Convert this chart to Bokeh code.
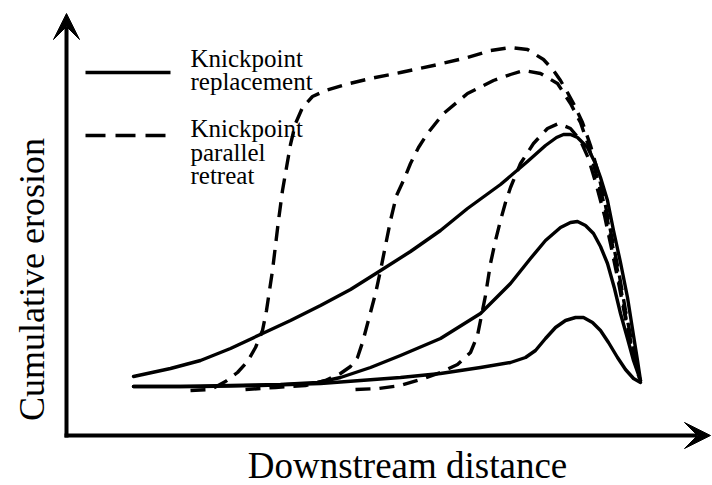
from bokeh.plotting import figure
from bokeh.models import Range1d, Arrow, VeeHead
from bokeh.core.properties import value
from bokeh.embed import file_html
from bokeh.resources import INLINE
import math

# Schematic data (arbitrary units: downstream distance, cumulative erosion)
s1_x = [67, 104, 134, 164, 196, 224, 254, 284, 311, 344, 374, 401, 434, 461, 479, 490, 497, 504, 511, 521, 529, 534, 541, 547, 554, 561, 567, 571, 574]
s1_y = [59, 67, 75, 87, 102, 115, 130, 146, 163, 184, 205, 227, 251, 274, 290, 298, 301, 301, 298, 288, 272, 258, 235, 205, 173, 138, 100, 75, 55]

s2_x = [67, 114, 164, 214, 251, 274, 304, 334, 374, 414, 444, 464, 479, 494, 504, 511, 519, 527, 534, 541, 548, 554, 561, 567, 574]
s2_y = [49, 49, 50, 51, 53, 58, 68, 80, 97, 122, 152, 177, 195, 208, 213, 214, 210, 202, 189, 172, 147, 122, 97, 75, 55]

s3_x = [67, 134, 194, 254, 294, 334, 374, 414, 444, 459, 469, 479, 489, 499, 509, 517, 526, 534, 542, 551, 559, 567, 574]
s3_y = [49, 49, 50, 52, 55, 58, 62, 68, 73, 78, 85, 97, 108, 115, 118, 118, 113, 105, 93, 78, 66, 57, 53]

d1_x = [124, 144, 159, 171, 181, 189, 196, 200, 203, 206, 209, 212, 216, 220, 224, 229, 236, 246, 259, 279, 304, 334, 367, 401, 424, 444, 461, 477, 487, 494, 501, 507, 516, 524, 531, 538, 545, 552, 559, 566, 572]
d1_y = [45, 46, 54, 63, 74, 88, 105, 125, 145, 165, 190, 215, 245, 268, 291, 312, 328, 339, 345, 351, 357, 363, 370, 378, 385, 388, 386, 376, 365, 355, 343, 332, 313, 290, 265, 235, 200, 165, 125, 90, 63]

d2_x = [179, 209, 239, 259, 274, 284, 291, 296, 300, 304, 309, 314, 319, 324, 330, 337, 344, 352, 361, 377, 401, 427, 444, 457, 474, 491, 504, 514, 522, 530, 538, 545, 552, 559, 566, 572]
d2_y = [46, 48, 50, 55, 62, 69, 78, 93, 108, 123, 142, 165, 190, 215, 240, 255, 272, 288, 302, 322, 342, 355, 361, 365, 362, 352, 332, 313, 290, 260, 230, 195, 160, 120, 85, 60]

d3_x = [289, 312, 334, 354, 374, 391, 404, 411, 415, 419, 424, 429, 434, 439, 444, 454, 467, 481, 492, 504, 514, 522, 530, 538, 545, 552, 559, 566, 573]
d3_y = [46, 47, 50, 56, 63, 71, 83, 100, 120, 140, 172, 195, 215, 233, 248, 272, 292, 307, 312, 307, 295, 277, 250, 220, 187, 153, 117, 83, 57]

legend_labels = [["Knickpoint", "replacement"], ["Knickpoint", "parallel", "retreat"]]
x_label = "Downstream distance"
y_label = "Cumulative erosion"

p = figure(width=712, height=485, output_backend="svg", toolbar_location=None,
           x_range=Range1d(-66, 646), y_range=Range1d(-50, 435),
           x_axis_type=None, y_axis_type=None, min_border=0)
p.grid.visible = False
p.outline_line_color = None
p.background_fill_color = "white"
p.border_fill_color = "white"

LW = 3.4
DASH = "15 9"
for xs, ys in [(s1_x, s1_y), (s2_x, s2_y), (s3_x, s3_y)]:
    p.line(xs, ys, line_color="black", line_width=LW, line_join="round", line_cap="round")
for xs, ys in [(d1_x, d1_y), (d2_x, d2_y), (d3_x, d3_y)]:
    p.line(xs, ys, line_color="black", line_width=LW, line_dash=DASH, line_join="round")

# axes drawn as arrows
p.add_layout(Arrow(end=VeeHead(size=26, fill_color="black", line_color="black"),
                   x_start=0, y_start=-2, x_end=0, y_end=422, line_width=4, line_color="black"))
p.add_layout(Arrow(end=VeeHead(size=26, fill_color="black", line_color="black"),
                   x_start=-2, y_start=0, x_end=644, y_end=0, line_width=4, line_color="black"))

# legend
p.line([19, 104], [363, 363], line_color="black", line_width=LW)
p.line([19, 99], [300, 300], line_color="black", line_width=LW, line_dash="20 10")
font = value("Liberation Serif")
g1_y = [377, 354]
g2_y = [307, 283, 260]
for lab, yy in zip(legend_labels[0], g1_y):
    p.text([124], [yy], text=[lab], text_font=font, text_font_size="25px",
           text_baseline="alphabetic", text_align="left", text_color="black")
for lab, yy in zip(legend_labels[1], g2_y):
    p.text([124], [yy], text=[lab], text_font=font, text_font_size="25px",
           text_baseline="alphabetic", text_align="left", text_color="black")

p.text([341], [-29.5], text=[x_label], text_font=font, text_font_size="37px",
       text_baseline="middle", text_align="center", text_color="black")
p.text([-35], [156], text=[y_label], text_font=font, text_font_size="36px",
       text_baseline="middle", text_align="center", angle=math.pi / 2, text_color="black")

open("out.html", "w").write(file_html(p, INLINE))
